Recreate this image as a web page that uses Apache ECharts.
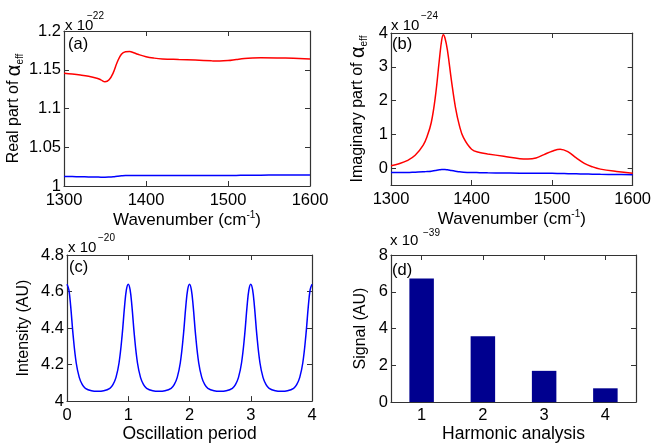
<!DOCTYPE html>
<html><head><meta charset="utf-8">
<script src="https://cdn.jsdelivr.net/npm/echarts@6/dist/echarts.min.js"></script>
<style>html,body{margin:0;padding:0;background:#fff}#c{width:654px;height:444px}</style>
</head><body><div id="c"></div>
<script>
// ---------- data ----------
const aX = [1300,1310,1320,1330,1340,1345,1350,1355,1360,1365,1370,1375,1380,1385,1390,1400,1410,1420,1440,1460,1480,1490,1500,1510,1520,1530,1540,1560,1580,1600];
const aRed = [1.1455,1.1445,1.1432,1.1415,1.1390,1.1370,1.1345,1.1370,1.1460,1.1600,1.1700,1.1732,1.1735,1.1720,1.1700,1.1668,1.1650,1.1640,1.1632,1.1625,1.1615,1.1612,1.1618,1.1632,1.1645,1.1652,1.1655,1.1653,1.1648,1.1640];
const aBlue = [1.0122,1.0121,1.0119,1.0117,1.0115,1.0114,1.0114,1.0116,1.0120,1.0126,1.0131,1.0134,1.0134,1.0134,1.0134,1.0134,1.0134,1.0134,1.0134,1.0135,1.0135,1.0135,1.0136,1.0137,1.0138,1.0139,1.0140,1.0141,1.0142,1.0143];

const bX = [1300,1310,1320,1330,1340,1345,1350,1355,1360,1363,1365,1367,1370,1375,1380,1385,1390,1400,1410,1420,1440,1460,1470,1480,1490,1500,1510,1520,1530,1540,1550,1560,1580,1600];
const bRed = [0.07,0.13,0.22,0.38,0.68,0.95,1.35,2.1,3.2,3.8,3.95,3.85,3.5,2.6,1.8,1.25,0.9,0.56,0.46,0.42,0.35,0.28,0.27,0.30,0.40,0.50,0.56,0.48,0.30,0.14,0.04,-0.03,-0.10,-0.15];
const bBlue = [-0.13,-0.13,-0.13,-0.12,-0.11,-0.10,-0.09,-0.07,-0.05,-0.04,-0.04,-0.04,-0.05,-0.07,-0.09,-0.11,-0.12,-0.13,-0.135,-0.14,-0.145,-0.15,-0.15,-0.155,-0.155,-0.155,-0.16,-0.165,-0.17,-0.175,-0.18,-0.185,-0.19,-0.2];

const cX = [0,0.03,0.06,0.1,0.15,0.2,0.25,0.3,0.4,0.5,0.6,0.7,0.75,0.8,0.85,0.9,0.94,0.97,
            1,1.03,1.06,1.1,1.15,1.2,1.25,1.3,1.4,1.5,1.6,1.7,1.75,1.8,1.85,1.9,1.94,1.97,
            2,2.03,2.06,2.1,2.15,2.2,2.25,2.3,2.4,2.5,2.6,2.7,2.75,2.8,2.85,2.9,2.94,2.97,
            3,3.03,3.06,3.1,3.15,3.2,3.25,3.3,3.4,3.5,3.6,3.7,3.75,3.8,3.85,3.9,3.94,3.97,4];
const cY = [4.64,4.61,4.52,4.36,4.21,4.13,4.09,4.07,4.057,4.054,4.057,4.07,4.09,4.13,4.21,4.36,4.52,4.61,
            4.64,4.61,4.52,4.36,4.21,4.13,4.09,4.07,4.057,4.054,4.057,4.07,4.09,4.13,4.21,4.36,4.52,4.61,
            4.64,4.61,4.52,4.36,4.21,4.13,4.09,4.07,4.057,4.054,4.057,4.07,4.09,4.13,4.21,4.36,4.52,4.61,
            4.64,4.61,4.52,4.36,4.21,4.13,4.09,4.07,4.057,4.054,4.057,4.07,4.09,4.13,4.21,4.36,4.52,4.61,4.64];

const dCats = ['1','2','3','4'];
const dVals = [6.72,3.58,1.70,0.75];

const aYTicks = [1,1.05,1.1,1.15,1.2];
const bYTicks = [0,1,2,3,4];
const cYTicks = [4,4.2,4.4,4.6,4.8];
const dYTicks = [0,2,4,6,8];
const wnTicks = [1300,1400,1500,1600];
const cXTicks = [0,1,2,3,4];

// ---------- styling ----------
const FONT = 'Liberation Sans, Arial, Helvetica, sans-serif';
const AX = '#333333';

function valAxis(gi, pos, min, max, ticks, extra) {
  const primary = pos === 'bottom' || pos === 'left';
  const isX = pos === 'bottom' || pos === 'top';
  return Object.assign({
    type: 'value', gridIndex: gi, position: pos, min: min, max: max,
    axisLine: {show: true, onZero: false, lineStyle: {color: AX, width: 1.2}},
    axisTick: {show: true, inside: true, length: 5, customValues: ticks, lineStyle: {color: AX}},
    axisLabel: {show: primary, customValues: ticks, color: '#000', fontSize: 16.5, fontFamily: FONT,
                margin: isX ? 6 : 3, formatter: function (v) { return String(v); }},
    splitLine: {show: false}
  }, extra || {});
}
function catAxis(gi, pos, extra) {
  const primary = pos === 'bottom';
  return Object.assign({
    type: 'category', gridIndex: gi, position: pos, data: dCats, boundaryGap: true,
    axisLine: {show: true, onZero: false, lineStyle: {color: AX, width: 1.2}},
    axisTick: {show: true, inside: true, length: 5, alignWithLabel: true, lineStyle: {color: AX}},
    axisLabel: {show: primary, color: '#000', fontSize: 16.5, fontFamily: FONT, margin: 5},
    splitLine: {show: false}
  }, extra || {});
}
const hName = {color: '#000', fontSize: 17.5, fontFamily: FONT};
const vName = {color: '#000', fontSize: 16, fontFamily: FONT};
const alphaRich = {
  t: {fontSize: 16, fontFamily: FONT, color: '#000', lineHeight: 22, verticalAlign: 'middle'},
  g: {fontSize: 20, fontFamily: FONT, color: '#000', lineHeight: 22, verticalAlign: 'middle'},
  s: {fontSize: 10, fontFamily: FONT, color: '#000', lineHeight: 22, verticalAlign: 'bottom'}
};
const wnRich = {
  t: {fontSize: 17, fontFamily: FONT, color: '#000', lineHeight: 20, verticalAlign: 'middle'},
  u: {fontSize: 10, fontFamily: FONT, color: '#000', lineHeight: 20, verticalAlign: 'top'}
};
const wnName = '{t|Wavenumber (cm}{u|-1}{t|)}';

const grids = [
  {left: 64, top: 31, right: 344, bottom: 258},
  {left: 391, top: 33, right: 20, bottom: 259},
  {left: 67, top: 255, right: 342, bottom: 36},
  {left: 391, top: 255, right: 18, bottom: 33}
];

const xAxes = [
  valAxis(0, 'bottom', 1300, 1600, wnTicks, {name: wnName, nameLocation: 'middle', nameGap: 19, nameTextStyle: Object.assign({}, hName, {rich: wnRich})}),
  valAxis(0, 'top', 1300, 1600, wnTicks),
  valAxis(1, 'bottom', 1300, 1600, wnTicks, {name: wnName, nameLocation: 'middle', nameGap: 19, nameTextStyle: Object.assign({}, hName, {rich: wnRich})}),
  valAxis(1, 'top', 1300, 1600, wnTicks),
  valAxis(2, 'bottom', 0, 4, cXTicks, {name: 'Oscillation period', nameLocation: 'middle', nameGap: 16, nameTextStyle: hName}),
  valAxis(2, 'top', 0, 4, cXTicks),
  catAxis(3, 'bottom', {name: 'Harmonic analysis', nameLocation: 'middle', nameGap: 15, nameTextStyle: hName}),
  catAxis(3, 'top')
];
const yAxes = [
  valAxis(0, 'left', 1, 1.2, aYTicks, {name: '{t|Real part of }{g|α}{s|eff}', nameLocation: 'middle', nameGap: 26, nameTextStyle: Object.assign({}, vName, {rich: alphaRich})}),
  valAxis(0, 'right', 1, 1.2, aYTicks),
  valAxis(1, 'left', -0.5, 4, bYTicks, {name: '{t|Imaginary part of }{g|α}{s|eff}', nameLocation: 'middle', nameGap: 22, nameTextStyle: Object.assign({}, vName, {rich: alphaRich})}),
  valAxis(1, 'right', -0.5, 4, bYTicks),
  valAxis(2, 'left', 4, 4.8, cYTicks, {name: 'Intensity (AU)', nameLocation: 'middle', nameGap: 35, nameTextStyle: vName}),
  valAxis(2, 'right', 4, 4.8, cYTicks),
  valAxis(3, 'left', 0, 8, dYTicks, {name: 'Signal (AU)', nameLocation: 'middle', nameGap: 22, nameTextStyle: vName}),
  valAxis(3, 'right', 0, 8, dYTicks)
];

function pairs(xs, ys) { return xs.map((x, i) => [x, ys[i]]); }
function lineSeries(xi, yi, xs, ys, color) {
  return {type: 'line', xAxisIndex: xi, yAxisIndex: yi, data: pairs(xs, ys), showSymbol: false, symbol: 'none',
          smooth: 0.4, lineStyle: {color: color, width: 1.5}, animation: false, silent: true};
}

function txt(x, y, s, size) {
  return {type: 'text', left: x, top: y, silent: true,
          style: {text: s, fontSize: size, fontFamily: FONT, fill: '#000'}};
}

const option = {
  animation: false,
  backgroundColor: '#fff',
  grid: grids,
  xAxis: xAxes,
  yAxis: yAxes,
  series: [
    lineSeries(0, 0, aX, aRed, '#ff0000'),
    lineSeries(0, 0, aX, aBlue, '#0000ff'),
    lineSeries(2, 2, bX, bRed, '#ff0000'),
    lineSeries(2, 2, bX, bBlue, '#0000ff'),
    lineSeries(4, 4, cX, cY, '#0000ff'),
    {type: 'bar', xAxisIndex: 6, yAxisIndex: 6, data: dVals, barWidth: '40%',
     itemStyle: {color: '#00008f'}, animation: false, silent: true}
  ],
  graphic: [
    txt(65, 18, 'x 10', 15), txt(87, 11, '−22', 10),
    txt(391, 18, 'x 10', 15), txt(421, 11, '−24', 10),
    txt(68, 240, 'x 10', 15), txt(98, 233, '−20', 10),
    txt(390, 233, 'x 10', 15), txt(423, 228, '−39', 10),
    txt(68, 36, '(a)', 16.5), txt(392, 36, '(b)', 16.5),
    txt(69, 259, '(c)', 16.5), txt(392, 262, '(d)', 16.5)
  ]
};
const chart = echarts.init(document.getElementById('c'), null, {renderer: 'canvas'});
chart.setOption(option);
</script>
</body></html>
